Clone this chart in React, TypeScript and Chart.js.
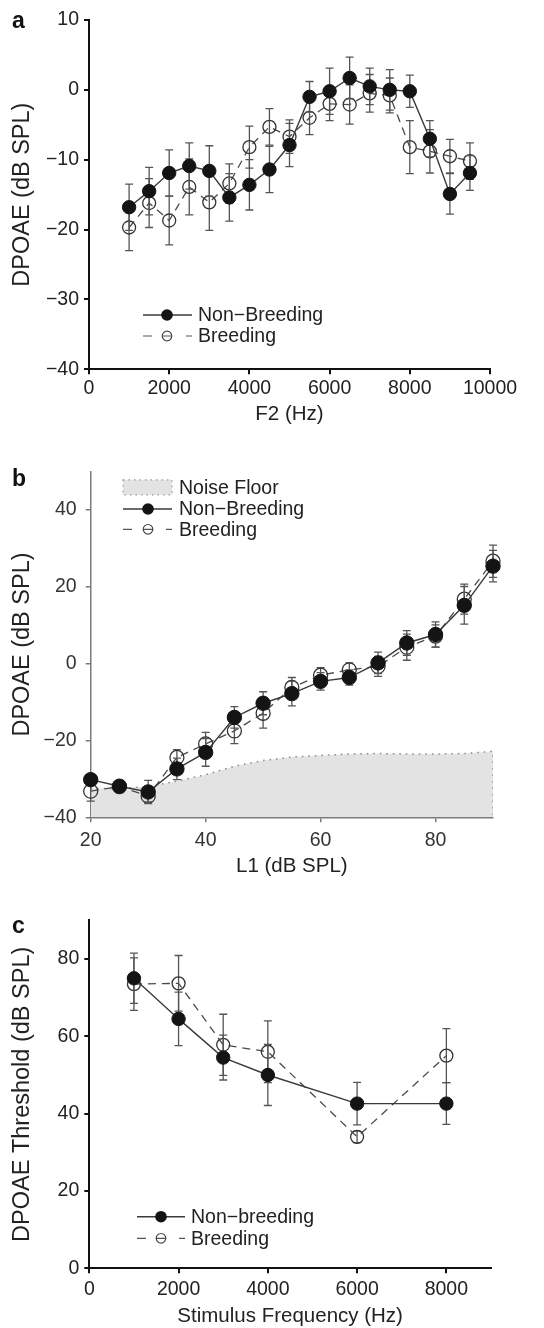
import React, { useEffect, useRef } from "react";
import { Chart, registerables } from "chart.js";
Chart.register(...registerables);

const FONT = '"Liberation Sans", Arial, Helvetica, sans-serif';

// ---------- Panel a: DPOAE vs F2 ----------
const aF2 = [1000, 1500, 2000, 2500, 3000, 3500, 4000, 4500, 5000, 5500, 6000, 6500, 7000, 7500, 8000, 8500, 9000, 9500];
const aNonBreeding = [-16.8, -14.5, -11.9, -10.9, -11.6, -15.4, -13.6, -11.4, -7.9, -1.0, -0.2, 1.7, 0.5, 0.0, -0.2, -7.0, -14.9, -11.9];
const aNonBreedingErr = [3.3, 3.4, 3.3, 3.3, 3.6, 3.4, 3.6, 3.3, 3.1, 2.2, 3.3, 3.0, 2.6, 2.9, 2.3, 2.6, 2.9, 2.5];
const aBreeding = [-19.7, -16.2, -18.7, -13.9, -16.1, -13.4, -8.2, -5.3, -6.7, -4.0, -2.0, -2.1, -0.5, -0.8, -8.2, -8.8, -9.5, -10.2];
const aBreedingErr = [3.3, 3.5, 3.5, 4.0, 4.0, 2.8, 3.0, 2.6, 2.4, 2.4, 2.4, 2.8, 2.7, 2.5, 3.8, 3.1, 2.4, 2.6];
const aXTicks = [0, 2000, 4000, 6000, 8000, 10000];
const aYTicks = [-40, -30, -20, -10, 0, 10];
const aLabels = ["Non\u2212Breeding", "Breeding"];

// ---------- Panel b: DPOAE vs L1 ----------
const bL1 = [20, 25, 30, 35, 40, 45, 50, 55, 60, 65, 70, 75, 80, 85, 90];
const bNonBreeding = [-30.2, -31.9, -33.4, -27.4, -23.1, -14.0, -10.3, -7.8, -4.6, -3.6, 0.2, 5.4, 7.6, 15.2, 25.4];
const bNonBreedingErr = [1.2, 1.0, 3.0, 2.8, 3.6, 2.8, 3.0, 3.2, 2.3, 2.0, 2.8, 3.2, 3.3, 4.9, 4.1];
const bBreeding = [-33.2, -32.0, -34.5, -24.4, -20.9, -17.5, -12.9, -6.2, -3.0, -1.6, -0.7, 4.3, 7.2, 16.8, 26.7];
const bBreedingErr = [2.6, 1.0, 1.5, 2.0, 3.0, 3.3, 3.9, 2.6, 2.0, 1.8, 2.6, 3.4, 2.9, 3.9, 4.2];
const bNoiseFloor = [-32.5, -32.5, -32.0, -30.6, -28.9, -26.7, -25.2, -24.3, -23.9, -23.5, -23.4, -23.5, -23.5, -23.4, -22.8];
const bXTicks = [20, 40, 60, 80];
const bYTicks = [-40, -20, 0, 20, 40];
const bLabels = ["Noise Floor", "Non\u2212Breeding", "Breeding"];

// ---------- Panel c: DPOAE threshold ----------
const cFreq = [1000, 2000, 3000, 4000, 6000, 8000];
const cNonBreeding = [75.0, 64.5, 54.5, 50.0, 42.6, 42.6];
const cNonBreedingErr = [6.5, 6.9, 5.8, 7.9, 5.5, 5.4];
const cBreeding = [73.5, 73.7, 57.8, 56.0, 34.0, 55.0];
const cBreedingErr = [6.8, 7.2, 7.9, 8.0, 1.5, 7.0];
const cXTicks = [0, 2000, 4000, 6000, 8000];
const cYTicks = [0, 20, 40, 60, 80];
const cLabels = ["Non\u2212breeding", "Breeding"];

const fmt = (v: number) => (v < 0 ? "\u2212" + Math.abs(v) : String(v));
const pts = (xs: number[], ys: number[]) => xs.map((x, i) => ({ x, y: ys[i] }));

const filledStyle = (r: number) => ({
  borderColor: "#3a3a3a",
  borderWidth: 1.4,
  pointRadius: r,
  pointBackgroundColor: "#141414",
  pointBorderColor: "#141414",
  pointBorderWidth: 1,
  showLine: true,
  tension: 0,
  clip: false as any,
  order: 1,
});
const openStyle = (r: number) => ({
  borderColor: "#4a4a4a",
  borderWidth: 1.3,
  borderDash: [8, 6],
  pointRadius: r,
  pointBackgroundColor: "rgba(0,0,0,0)",
  pointBorderColor: "#333",
  pointBorderWidth: 1.3,
  showLine: true,
  tension: 0,
  clip: false as any,
  order: 2,
});

const errorBarPlugin = {
  id: "errorBars",
  beforeDatasetDraw(chart: any, args: any) {
    const ds = chart.data.datasets[args.index];
    if (!ds.errors) return;
    const meta = args.meta;
    const ctx = chart.ctx;
    const ys = chart.scales.y;
    const cap = 4;
    ctx.save();
    ctx.strokeStyle = "#555";
    ctx.lineWidth = 1.3;
    ctx.setLineDash([]);
    ds.data.forEach((pt: any, i: number) => {
      const e = ds.errors[i];
      if (!e) return;
      const px = meta.data[i].x;
      const top = ys.getPixelForValue(pt.y + e);
      const bot = ys.getPixelForValue(pt.y - e);
      ctx.beginPath();
      ctx.moveTo(px, top);
      ctx.lineTo(px, bot);
      ctx.moveTo(px - cap, top);
      ctx.lineTo(px + cap, top);
      ctx.moveTo(px - cap, bot);
      ctx.lineTo(px + cap, bot);
      ctx.stroke();
    });
    ctx.restore();
  },
};

type LegendRow = { kind: "filled" | "open" | "noise"; label: string; y: number };
type Panel = {
  top: number;
  height: number;
  area: { left: number; right: number; top: number; bottom: number };
  xMin: number; xMax: number; xTicks: number[];
  yMin: number; yMax: number; yTicks: number[];
  xTitle: string; yTitle: string;
  xTitlePad: number; xTickPad: number; yTickPad: number;
  axisColor: string; axisWidth: number; xDash?: number[]; tickColor: string;
  datasets: any[];
  legend: { x0: number; x1: number; mx: number; tx: number; rows: LegendRow[] };
  letter: string; letterY: number;
};

const makeDecor = (p: Panel) => ({
  id: "decor",
  afterDraw(chart: any) {
    const ctx = chart.ctx as CanvasRenderingContext2D;
    ctx.save();
    ctx.fillStyle = "#111";
    ctx.font = `bold 23px ${FONT}`;
    ctx.textAlign = "left";
    ctx.textBaseline = "middle";
    ctx.fillText(p.letter, 12, p.letterY);
    const L = p.legend;
    p.legend.rows.forEach((row) => {
      const y = row.y;
      if (row.kind === "noise") {
        ctx.fillStyle = "#e3e3e3";
        ctx.fillRect(L.x0, y - 7.5, L.x1 - L.x0, 15);
        ctx.strokeStyle = "#999";
        ctx.lineWidth = 1.2;
        ctx.setLineDash([1.5, 4]);
        ctx.strokeRect(L.x0, y - 7.5, L.x1 - L.x0, 15);
        ctx.setLineDash([]);
      } else if (row.kind === "filled") {
        ctx.strokeStyle = "#3a3a3a";
        ctx.lineWidth = 1.4;
        ctx.setLineDash([]);
        ctx.beginPath();
        ctx.moveTo(L.x0, y);
        ctx.lineTo(L.x1, y);
        ctx.stroke();
        ctx.fillStyle = "#141414";
        ctx.beginPath();
        ctx.arc(L.mx, y, 5.8, 0, Math.PI * 2);
        ctx.fill();
      } else {
        ctx.strokeStyle = "#555";
        ctx.lineWidth = 1.2;
        ctx.setLineDash([]);
        ctx.beginPath();
        ctx.moveTo(L.x0, y);
        ctx.lineTo(L.x0 + 9, y);
        ctx.moveTo(L.mx - 5, y);
        ctx.lineTo(L.mx + 5, y);
        ctx.moveTo(L.x1 - 6, y);
        ctx.lineTo(L.x1, y);
        ctx.stroke();
        ctx.strokeStyle = "#444";
        ctx.beginPath();
        ctx.arc(L.mx, y, 4.8, 0, Math.PI * 2);
        ctx.stroke();
      }
      ctx.fillStyle = "#222";
      ctx.font = `19.5px ${FONT}`;
      ctx.textBaseline = "middle";
      ctx.fillText(row.label, L.tx, y + 1);
    });
    ctx.restore();
  },
});

function buildConfig(p: Panel): any {
  const leftW = p.area.left;
  const bottomH = p.height - p.area.bottom;
  return {
    type: "scatter",
    data: { datasets: p.datasets },
    plugins: [errorBarPlugin, makeDecor(p)],
    options: {
      responsive: false,
      animation: false,
      devicePixelRatio: 1,
      layout: { padding: { left: 0, top: p.area.top, right: W - p.area.right, bottom: 0 } },
      plugins: { legend: { display: false }, tooltip: { enabled: false } },
      scales: {
        x: {
          type: "linear",
          min: p.xMin,
          max: p.xMax,
          afterBuildTicks: (s: any) => {
            s.ticks = p.xTicks.map((v) => ({ value: v }));
          },
          afterFit: (s: any) => {
            s.height = bottomH;
          },
          grid: { display: true, drawOnChartArea: false, drawTicks: true, tickLength: 5, color: p.axisColor, lineWidth: p.axisWidth },
          border: { display: true, color: p.axisColor, width: p.axisWidth, dash: p.xDash || [] },
          ticks: {
            color: p.tickColor,
            font: { family: FONT, size: 19.5, lineHeight: 1 },
            padding: p.xTickPad,
            maxRotation: 0,
            autoSkip: false,
            callback: (v: number) => fmt(v),
          },
          title: {
            display: true,
            text: p.xTitle,
            color: "#222",
            font: { family: FONT, size: 20.5, lineHeight: 1 },
            padding: { top: 0, bottom: p.xTitlePad },
          },
        },
        y: {
          type: "linear",
          min: p.yMin,
          max: p.yMax,
          afterBuildTicks: (s: any) => {
            s.ticks = p.yTicks.map((v) => ({ value: v }));
          },
          afterFit: (s: any) => {
            s.width = leftW;
          },
          grid: { display: true, drawOnChartArea: false, drawTicks: true, tickLength: 5, color: p.axisColor, lineWidth: p.axisWidth },
          border: { display: true, color: p.axisColor, width: p.axisWidth },
          ticks: {
            color: p.tickColor,
            font: { family: FONT, size: 19.5, lineHeight: 1 },
            padding: p.yTickPad,
            autoSkip: false,
            callback: (v: number) => fmt(v),
          },
          title: {
            display: true,
            text: p.yTitle,
            color: "#222",
            font: { family: FONT, size: 23.5, lineHeight: 1 },
            padding: { top: 11, bottom: 0 },
          },
        },
      },
    },
  };
}

const panels: Panel[] = [
  {
    top: 0,
    height: 430,
    area: { left: 89, right: 490, top: 20, bottom: 369.3 },
    xMin: 0, xMax: 10000, xTicks: aXTicks,
    yMin: -40, yMax: 10, yTicks: aYTicks,
    xTitle: "F2 (Hz)", yTitle: "DPOAE (dB SPL)",
    xTitlePad: 5.75, xTickPad: 4.75, yTickPad: 5,
    axisColor: "#111", axisWidth: 2, tickColor: "#222",
    datasets: [
      { ...filledStyle(6.7), label: aLabels[0], data: pts(aF2, aNonBreeding), errors: aNonBreedingErr },
      { ...openStyle(6.5), label: aLabels[1], data: pts(aF2, aBreeding), errors: aBreedingErr },
    ],
    legend: {
      x0: 143, x1: 192, mx: 167, tx: 198,
      rows: [
        { kind: "filled", label: aLabels[0], y: 315 },
        { kind: "open", label: aLabels[1], y: 336 },
      ],
    },
    letter: "a",
    letterY: 22,
  },
  {
    top: 440,
    height: 440,
    area: { left: 90.7, right: 493, top: 31.7, bottom: 377.3 },
    xMin: 20, xMax: 90, xTicks: bXTicks,
    yMin: -40, yMax: 50, yTicks: bYTicks,
    xTitle: "L1 (dB SPL)", yTitle: "DPOAE (dB SPL)",
    xTitlePad: 3, xTickPad: 8.6, yTickPad: 9,
    axisColor: "#7a7a7a", axisWidth: 1.5, xDash: [1.5, 4], tickColor: "#333",
    datasets: [
      { ...filledStyle(7.2), label: bLabels[1], data: pts(bL1, bNonBreeding), errors: bNonBreedingErr },
      { ...openStyle(7.0), label: bLabels[2], data: pts(bL1, bBreeding), errors: bBreedingErr },
      {
        label: bLabels[0],
        data: [...pts(bL1, bNoiseFloor), { x: bL1[bL1.length - 1], y: -40 }],
        showLine: true,
        fill: "start",
        backgroundColor: "#e3e3e3",
        borderColor: "#8a8a8a",
        borderWidth: 1.5,
        borderDash: [1.5, 5],
        pointRadius: 0,
        tension: 0,
        order: 3,
      },
    ],
    legend: {
      x0: 123, x1: 172, mx: 148, tx: 179,
      rows: [
        { kind: "noise", label: bLabels[0], y: 47.3 },
        { kind: "filled", label: bLabels[1], y: 69 },
        { kind: "open", label: bLabels[2], y: 89.3 },
      ],
    },
    letter: "b",
    letterY: 40,
  },
  {
    top: 890,
    height: 438,
    area: { left: 89.3, right: 491, top: 30.3, bottom: 378.3 },
    xMin: 0, xMax: 9000, xTicks: cXTicks,
    yMin: 0, yMax: 90, yTicks: cYTicks,
    xTitle: "Stimulus Frequency (Hz)", yTitle: "DPOAE Threshold (dB SPL)",
    xTitlePad: 1, xTickPad: 6.4, yTickPad: 5,
    axisColor: "#111", axisWidth: 2, tickColor: "#222",
    datasets: [
      { ...filledStyle(6.7), label: cLabels[0], data: pts(cFreq, cNonBreeding), errors: cNonBreedingErr },
      { ...openStyle(6.5), label: cLabels[1], data: pts(cFreq, cBreeding), errors: cBreedingErr },
    ],
    legend: {
      x0: 137, x1: 185, mx: 161, tx: 191,
      rows: [
        { kind: "filled", label: cLabels[0], y: 326.7 },
        { kind: "open", label: cLabels[1], y: 348.3 },
      ],
    },
    letter: "c",
    letterY: 37,
  },
];

export default function App() {
  const refs = [useRef<HTMLCanvasElement>(null), useRef<HTMLCanvasElement>(null), useRef<HTMLCanvasElement>(null)];
  useEffect(() => {
    const charts = panels.map((p, i) => new Chart(refs[i].current as HTMLCanvasElement, buildConfig(p)));
    return () => charts.forEach((c) => c.destroy());
  }, []);
  return (
    <div style={{ position: "absolute", left: 0, top: 0, width: W, height: 1328, background: "#fff" }}>
      {panels.map((p, i) => (
        <canvas
          key={i}
          ref={refs[i]}
          width={W}
          height={p.height}
          style={{ position: "absolute", left: 0, top: p.top, width: W, height: p.height }}
        />
      ))}
    </div>
  );
}

const W = 544;
